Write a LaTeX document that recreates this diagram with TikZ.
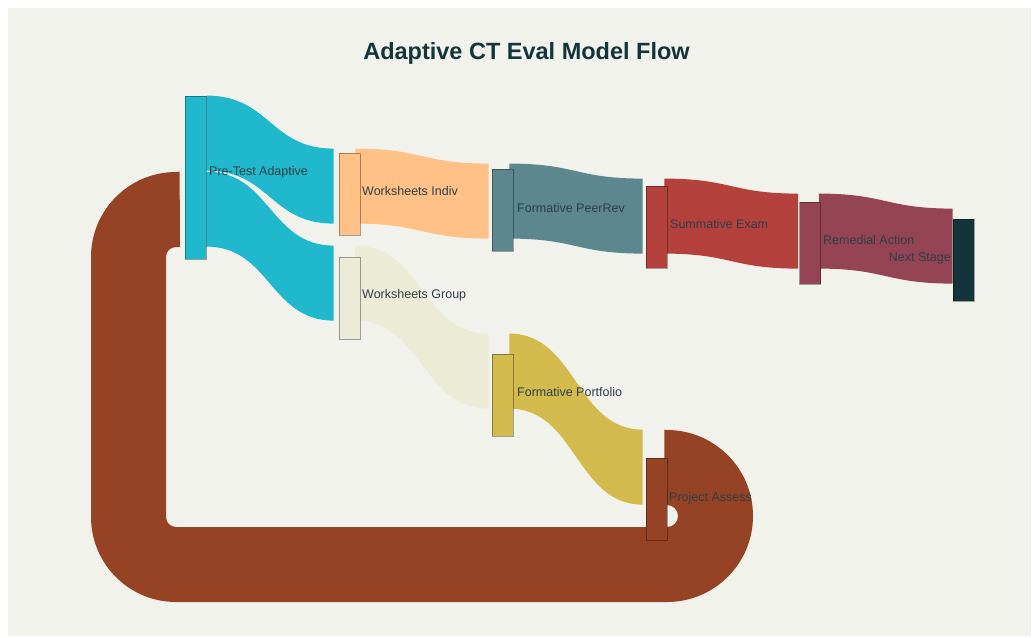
\documentclass[tikz,border=0pt]{standalone}
\usepackage{fontspec}
\setmainfont{Liberation Sans}
\usetikzlibrary{calc}
\definecolor{bgpanel}{HTML}{F2F2EC}
\definecolor{cCyan}{HTML}{1FB8CD}
\definecolor{cOrange}{HTML}{FFC185}
\definecolor{cBeige}{HTML}{ECEBD5}
\definecolor{cTeal}{HTML}{5D878F}
\definecolor{cGold}{HTML}{D2BA4C}
\definecolor{cRed}{HTML}{B4413C}
\definecolor{cPlum}{HTML}{944454}
\definecolor{cDark}{HTML}{13343B}
\definecolor{cBrown}{HTML}{964325}
\definecolor{labelcol}{HTML}{2F3E48}
\newcommand\sankeyband[4]{%
  \fill[#4] let \p1=(#1), \p2=(#2), \n1={(\x1+\x2)/2} in
    (\p1) .. controls (\n1,\y1) and (\n1,\y2) .. (\p2)
    -- (\x2,{\y2-#3pt}) .. controls (\n1,{\y2-#3pt}) and (\n1,{\y1-#3pt}) .. (\x1,{\y1-#3pt}) -- cycle;}
\tikzset{
  sknode/.style={rectangle, inner sep=0pt, minimum width=21pt, minimum height=82pt,
    draw=black, draw opacity=0.35, line width=0.8pt},
  sklabel/.style={anchor=west, inner sep=0pt, text height=9pt, text depth=0pt,
    text=labelcol, font=\fontsize{12.5}{15}\selectfont},
}
\begin{document}
\begin{tikzpicture}[x=1pt,y=-1pt]
\useasboundingbox (0,0) rectangle (1032,637);
\fill[white] (0,0) rectangle (1032,637);
\fill[bgpanel] (8,8) rectangle (1031,636);

% title
\node[font=\fontsize{23.5}{28}\selectfont\bfseries, text=cDark, inner sep=0pt,
      text height=17pt, text depth=0pt] (title) at (526.5,51) {Adaptive CT Eval Model Flow};

% node coordinates (nodes drawn later on top of the bands)
\path
  (195.5,177.5) node[sknode, minimum height=163pt, draw=none] (pre) {}
  (349.5,194)   node[sknode, draw=none] (wsi) {}
  (349.5,298)   node[sknode, draw=none] (wsg) {}
  (502.5,210)   node[sknode, draw=none] (fpr) {}
  (502.5,395)   node[sknode, draw=none] (fpo) {}
  (656.5,227)   node[sknode, draw=none] (sum) {}
  (810,243)     node[sknode, draw=none] (rem) {}
  (963.5,260)   node[sknode, draw=none] (nxt) {}
  (656.5,499)   node[sknode, draw=none] (prj) {};

% bands
\sankeyband{$(pre.north east)+(0,0)$}{$(wsi.north west)+(-5,-4)$}{75}{cCyan}
\sankeyband{$(pre.north east)+(0,76)$}{$(wsg.north west)+(-5,-11)$}{75}{cCyan}
\sankeyband{$(wsi.north east)+(-5,-4)$}{$(fpr.north west)+(-3,-5)$}{75}{cOrange}
\sankeyband{$(wsg.north east)+(-5,-11)$}{$(fpo.north west)+(-3,-20)$}{75}{cBeige}
\sankeyband{$(fpr.north east)+(-4,-5)$}{$(sum.north west)+(-3,-7)$}{75}{cTeal}
\sankeyband{$(fpo.north east)+(-4,-20)$}{$(prj.north west)+(-3,-28)$}{75}{cGold}
\sankeyband{$(sum.north east)+(-3,-7)$}{$(rem.north west)+(-1,-8)$}{75}{cRed}
\sankeyband{$(rem.north east)+(-2,-8)$}{$(nxt.north west)+(0,-10)$}{75}{cPlum}

% loop band Project Assess -> Pre-Test Adaptive
\fill[cBrown] ($(prj.north east)+(-3,-28)$) -- (667,430)
  .. controls (714.5,430) and (753,468.5) .. (753,516)
  .. controls (753,563.5) and (714.5,602) .. (667,602)
  -- (176,602)
  .. controls (129.1,602) and (91,563.9) .. (91,517)
  -- (91,257)
  .. controls (91,210.1) and (129.1,172) .. (176,172)
  -- ($(pre.north west)+(-5,76)$) -- (180,247) -- (176,247)
  .. controls (170.5,247) and (166,251.5) .. (166,257)
  -- (166,517)
  .. controls (166,522.5) and (170.5,527) .. (176,527)
  -- (667,527)
  .. controls (673.1,527) and (678,522.1) .. (678,516)
  .. controls (678,509.9) and (673.1,505) .. (667,505)
  -- (664,505) -- cycle;

% visible nodes
\node[sknode, minimum height=163pt, fill=cCyan] (preBox) at (pre) {};
\node[sknode, fill=cOrange] (wsiBox) at (wsi) {};
\node[sknode, fill=cBeige] (wsgBox) at (wsg) {};
\node[sknode, fill=cTeal] (fprBox) at (fpr) {};
\node[sknode, fill=cGold] (fpoBox) at (fpo) {};
\node[sknode, fill=cRed] (sumBox) at (sum) {};
\node[sknode, fill=cPlum] (remBox) at (rem) {};
\node[sknode, fill=cDark] (nxtBox) at (nxt) {};
\node[sknode, fill=cBrown] (prjBox) at (prj) {};

% labels
\node[sklabel] (preL) at (209,171) {Pre-Test Adaptive};
\node[sklabel] (wsiL) at (362,191) {Worksheets Indiv};
\node[sklabel] (wsgL) at (362,294) {Worksheets Group};
\node[sklabel] (fprL) at (517,208) {Formative PeerRev};
\node[sklabel] (fpoL) at (517,392) {Formative Portfolio};
\node[sklabel] (sumL) at (670,224) {Summative Exam};
\node[sklabel] (remL) at (823,240) {Remedial Action};
\node[sklabel, anchor=east] (nxtL) at (951,257) {Next Stage};
\node[sklabel] (prjL) at (669,497) {Project Assess};
\end{tikzpicture}
\end{document}
